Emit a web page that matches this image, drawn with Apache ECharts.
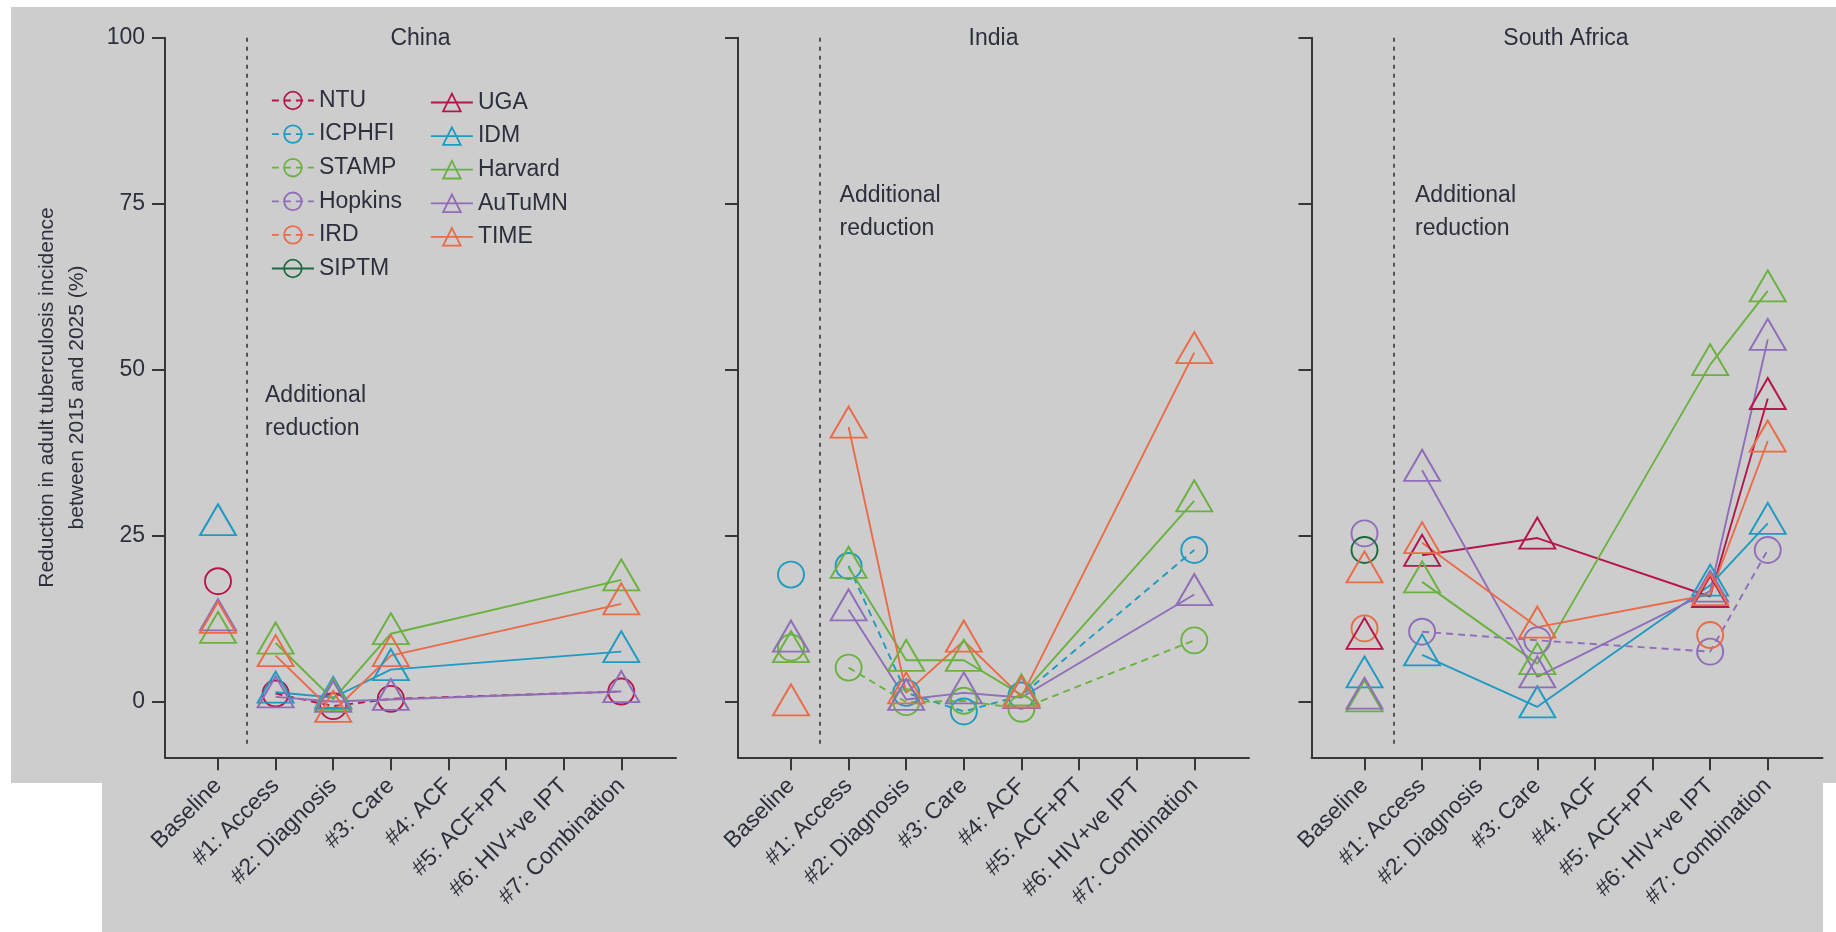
<!DOCTYPE html>
<html><head><meta charset="utf-8">
<script src="https://cdn.jsdelivr.net/npm/echarts@6/dist/echarts.min.js"></script>
<style>html,body{margin:0;padding:0;background:#fff}#c{width:1836px;height:932px}</style>
</head><body><div id="c"></div>
<script>
// ---------------- data ----------------
const categories = ['Baseline','#1: Access','#2: Diagnosis','#3: Care','#4: ACF','#5: ACF+PT','#6: HIV+ve IPT','#7: Combination'];
const categoryIndex = [0,1,2,3,4,5,6,7];
const panels = ['China','India','South Africa'];
const yTicks = [0,25,50,75,100];
const models = ['NTU','ICPHFI','STAMP','Hopkins','IRD','SIPTM','UGA','IDM','Harvard','AuTuMN','TIME'];
const dividerX = 0.5;

// values: Baseline, #1 ... #7 (null = not modelled)
const chinaNTU     = [18.2, 1.3, -0.6, 0.5, null, null, null, 1.6];
const chinaIDM     = [26.7, 1.5, 0.7, 4.9, null, null, null, 7.6];
const chinaHarvard = [10.5, 8.9, 0.4, 10.3, null, null, null, 18.4];
const chinaAuTuMN  = [12.4, 0.8, 0.1, 0.4, null, null, null, 1.6];
const chinaTIME    = [12.0, 7.0, -1.4, 7.0, null, null, null, 14.8];

const indiaICPHFI  = [19.2, 20.5, 1.4, -1.4, 1.0, null, null, 22.9];
const indiaSTAMP   = [8.2, 5.2, 0.0, 0.2, -1.0, null, null, 9.3];
const indiaHarvard = [7.6, 20.3, 6.3, 6.3, 1.1, null, null, 30.3];
const indiaAuTuMN  = [9.2, 13.9, 0.4, 1.4, 0.7, null, null, 16.2];
const indiaTIME    = [-0.4, 41.4, 1.4, 9.2, 0.8, null, null, 52.6];

const saHopkins = [25.4, 10.6, null, 9.3, null, null, 7.6, 22.9];
const saIRD     = [11.1, null, null, null, null, null, 10.1, null];
const saSIPTM   = [22.9, null, null, null, null, null, null, null];
const saUGA     = [9.6, 22.1, null, 24.7, null, null, 15.9, 45.7];
const saIDM     = [3.8, 7.1, null, -0.7, null, null, 17.6, 26.9];
const saHarvard = [0.2, 18.1, null, 5.8, null, null, 50.8, 61.9];
const saAuTuMN  = [0.6, 34.9, null, 3.8, null, null, 16.7, 54.6];
const saTIME    = [19.6, 24.0, null, 11.3, null, null, 16.2, 39.3];

const panelData = [
  {NTU: chinaNTU, IDM: chinaIDM, Harvard: chinaHarvard, AuTuMN: chinaAuTuMN, TIME: chinaTIME},
  {ICPHFI: indiaICPHFI, STAMP: indiaSTAMP, Harvard: indiaHarvard, AuTuMN: indiaAuTuMN, TIME: indiaTIME},
  {Hopkins: saHopkins, IRD: saIRD, SIPTM: saSIPTM, UGA: saUGA, IDM: saIDM, Harvard: saHarvard, AuTuMN: saAuTuMN, TIME: saTIME}
];

// ---------------- styles ----------------
const FONT = "'Liberation Sans', Arial, sans-serif";
const TXT = '#2b303c';
const AX = '#363636';
const C = {crimson:'#B5174B', teal:'#1F9AC1', green:'#6AB23F', purple:'#8F6DB8', orange:'#EA6B47', dkgreen:'#1C6A40'};
const modelStyle = {
  NTU:{c:C.crimson, s:'circle', d:true}, ICPHFI:{c:C.teal, s:'circle', d:true}, STAMP:{c:C.green, s:'circle', d:true},
  Hopkins:{c:C.purple, s:'circle', d:true}, IRD:{c:C.orange, s:'circle', d:true}, SIPTM:{c:C.dkgreen, s:'circle', d:false},
  UGA:{c:C.crimson, s:'triangle', d:false}, IDM:{c:C.teal, s:'triangle', d:false}, Harvard:{c:C.green, s:'triangle', d:false},
  AuTuMN:{c:C.purple, s:'triangle', d:false}, TIME:{c:C.orange, s:'triangle', d:false}
};
const gridLefts = [165, 738, 1311.5];
const GRID_TOP = 37.7, GRID_W = 511, GRID_H = 719.6;

function mkSeries(name, gi, pts) {
  const st = modelStyle[name];
  const tri = st.s === 'triangle';
  return {
    type: 'line', name: name, xAxisIndex: gi, yAxisIndex: gi,
    data: pts, color: st.c,
    symbol: st.s, symbolSize: tri ? [36, 31] : 26, symbolOffset: tri ? [0, -5] : [0, 0],
    showSymbol: true, showAllSymbol: true, silent: true,
    lineStyle: {color: st.c, width: 1.9, type: st.d ? [7, 5] : 'solid'},
    itemStyle: {color: 'rgba(0,0,0,0)', borderColor: st.c, borderWidth: 1.9},
    emphasis: {disabled: true}, animation: false
  };
}

const series = [];
models.forEach(function (m) {
  for (let gi = 0; gi < 3; gi++) {
    const arr = panelData[gi][m];
    if (!arr) continue;
    const pts = [];
    for (let i = 1; i < arr.length; i++) if (arr[i] !== null) pts.push([categoryIndex[i], arr[i]]);
    if (pts.length) series.push(mkSeries(m, gi, pts));
    if (arr[0] !== null) series.push(mkSeries(m, gi, [[categoryIndex[0], arr[0]]]));
  }
});
for (let gi = 0; gi < 3; gi++) {
  series.push({
    type: 'line', name: 'divider' + gi, xAxisIndex: gi, yAxisIndex: gi, data: [], silent: true,
    markLine: {symbol: ['none', 'none'], silent: true, label: {show: false}, animation: false,
      lineStyle: {type: [4, 5], color: '#4f545b', width: 2},
      data: [[{coord: [dividerX, 100]}, {coord: [dividerX, -7]}]]}
  });
}

const grids = [], xAxes = [], yAxes = [];
for (let gi = 0; gi < 3; gi++) {
  grids.push({left: gridLefts[gi], top: GRID_TOP, width: GRID_W, height: GRID_H, containLabel: false});
  xAxes.push({
    type: 'value', gridIndex: gi, min: -0.92, max: 7.95,
    axisLine: {show: true, onZero: false, lineStyle: {color: AX, width: 2}},
    axisTick: {show: true, customValues: categoryIndex, length: 13, lineStyle: {color: AX, width: 2}},
    axisLabel: {show: true, customValues: categoryIndex, rotate: 45, margin: 25,
      formatter: function (v) { return categories[Math.round(v)]; },
      fontSize: 23, fontFamily: FONT, color: TXT},
    splitLine: {show: false}
  });
  yAxes.push({
    type: 'value', gridIndex: gi, min: -8.3, max: 100,
    axisLine: {show: true, onZero: false, lineStyle: {color: AX, width: 2}},
    axisTick: {show: true, customValues: yTicks, length: 13, lineStyle: {color: AX, width: 2}},
    axisLabel: {show: gi === 0, customValues: yTicks, margin: 20, fontSize: 23, fontFamily: FONT, color: TXT},
    splitLine: {show: false},
    name: gi === 0 ? 'Reduction in adult tuberculosis incidence\nbetween 2015 and 2025 (%)' : '',
    nameLocation: 'middle', nameGap: 73,
    nameTextStyle: {fontSize: 21, lineHeight: 30, fontFamily: FONT, color: TXT, align: 'center'}
  });
}

const legendCommon = {
  orient: 'vertical', itemWidth: 42, itemHeight: 22, itemGap: 10.6, padding: 0,
  selectedMode: false,
  textStyle: {fontSize: 23, fontFamily: FONT, color: TXT},
  itemStyle: {borderWidth: 1.8}, lineStyle: {width: 1.8}
};

const graphics = [
  {type: 'rect', z: -10, silent: true, shape: {x: 11, y: 7, width: 1825, height: 776}, style: {fill: '#cdcdcd'}},
  {type: 'rect', z: -10, silent: true, shape: {x: 102, y: 782, width: 1721, height: 150}, style: {fill: '#cdcdcd'}}
];
const titleX = [420.5, 993.5, 1566];
panels.forEach(function (p, i) {
  graphics.push({type: 'text', silent: true, x: titleX[i], y: 39,
    style: {text: p, align: 'center', verticalAlign: 'middle', textAlign: 'center', textVerticalAlign: 'middle',
      fontSize: 23, fontFamily: FONT, fill: TXT}});
});
const addPos = [[265, 379.5], [839.6, 179], [1415, 179]];
addPos.forEach(function (pp) {
  graphics.push({type: 'text', silent: true, x: pp[0], y: pp[1],
    style: {text: 'Additional\nreduction', align: 'left', verticalAlign: 'top', lineHeight: 33,
      fontSize: 23, fontFamily: FONT, fill: TXT}});
});

const chart = echarts.init(document.getElementById('c'), null, {renderer: 'canvas'});
chart.setOption({
  animation: false,
  backgroundColor: '#ffffff',
  grid: grids, xAxis: xAxes, yAxis: yAxes,
  legend: [
    Object.assign({}, legendCommon, {data: models.slice(0, 6), left: 271, top: 89}),
    Object.assign({}, legendCommon, {data: models.slice(6), left: 430, top: 91})
  ],
  graphic: graphics,
  series: series
});
</script></body></html>
